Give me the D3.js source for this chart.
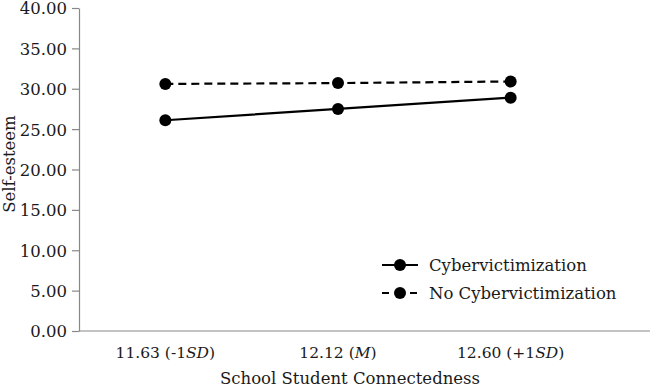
<!DOCTYPE html>
<html><head><meta charset="utf-8">
<script src="https://cdn.jsdelivr.net/npm/d3@7"></script>
<style>body{margin:0;background:#fff}svg{display:block}text{font-family:"DejaVu Serif",serif;fill:#1a1a1a}</style>
</head><body><svg width="650" height="388"></svg>
<script>
const categories = ["11.63 (-1SD)", "12.12 (M)", "12.60 (+1SD)"];
const catParts = [["11.63 (-1", "SD", ")"], ["12.12 (", "M", ")"], ["12.60 (+1", "SD", ")"]];
const cyber = [26.1, 27.5, 28.9];
const noCyber = [30.6, 30.7, 30.9];
const yTicks = [0, 5, 10, 15, 20, 25, 30, 35, 40];
const seriesNames = ["Cybervictimization", "No Cybervictimization"];

const FS = "16.5px";
const svg = d3.select("svg");
const x = d3.scalePoint().domain(categories).range([79, 597]).padding(0.5);
const y = d3.scaleLinear().domain([0, 40]).range([331, 8]);

// y axis
const ya = svg.append("g").attr("transform", "translate(79,0)")
  .call(d3.axisLeft(y).tickValues(yTicks).tickFormat(d3.format(".2f")).tickSize(7).tickSizeOuter(0));
ya.select(".domain").attr("stroke", "#888").attr("stroke-width", 1.2);
ya.selectAll(".tick line").attr("stroke", "#888").attr("stroke-width", 1.2);
ya.selectAll(".tick text").attr("x", -12).attr("dy", "0.36em").style("font-size", FS).style("font-family", "DejaVu Serif").attr("fill", "#1a1a1a");

// x axis line
svg.append("line").attr("x1", 79).attr("x2", 650).attr("y1", y(0)).attr("y2", y(0))
  .attr("stroke", "#888").attr("stroke-width", 1.2);

// x labels
categories.forEach((c, i) => {
  const t = svg.append("text").attr("x", x(c)).attr("y", 358).attr("text-anchor", "middle").style("font-size", "15.5px");
  t.append("tspan").text(catParts[i][0]);
  t.append("tspan").attr("font-style", "italic").text(catParts[i][1]);
  t.append("tspan").text(catParts[i][2]);
});
svg.append("text").attr("x", 350).attr("y", 384).attr("text-anchor", "middle").style("font-size", FS).text("School Student Connectedness");
svg.append("text").attr("transform", "translate(15,164) rotate(-90)").attr("text-anchor", "middle").style("font-size", FS).text("Self-esteem");

const line = d3.line().x((d, i) => x(categories[i])).y(d => y(d));
const series = [{v: cyber, dash: null}, {v: noCyber, dash: "8,5"}];
series.forEach(s => {
  svg.append("path").attr("d", line(s.v)).attr("fill", "none").attr("stroke", "#000").attr("stroke-width", 2.2)
    .attr("stroke-dasharray", s.dash);
  svg.selectAll(null).data(s.v).enter().append("circle")
    .attr("cx", (d, i) => x(categories[i])).attr("cy", d => y(d)).attr("r", 6).attr("fill", "#000");
});

// legend
series.forEach((s, i) => {
  const ly = 265 + i * 28;
  svg.append("line").attr("x1", 382).attr("x2", 418).attr("y1", ly).attr("y2", ly)
    .attr("stroke", "#000").attr("stroke-width", 2.2).attr("stroke-dasharray", s.dash ? "7,7" : null);
  svg.append("circle").attr("cx", 400).attr("cy", ly).attr("r", 6).attr("fill", "#000");
  svg.append("text").attr("x", 429).attr("y", ly + 6).style("font-size", FS).text(seriesNames[i]);
});
</script></body></html>
